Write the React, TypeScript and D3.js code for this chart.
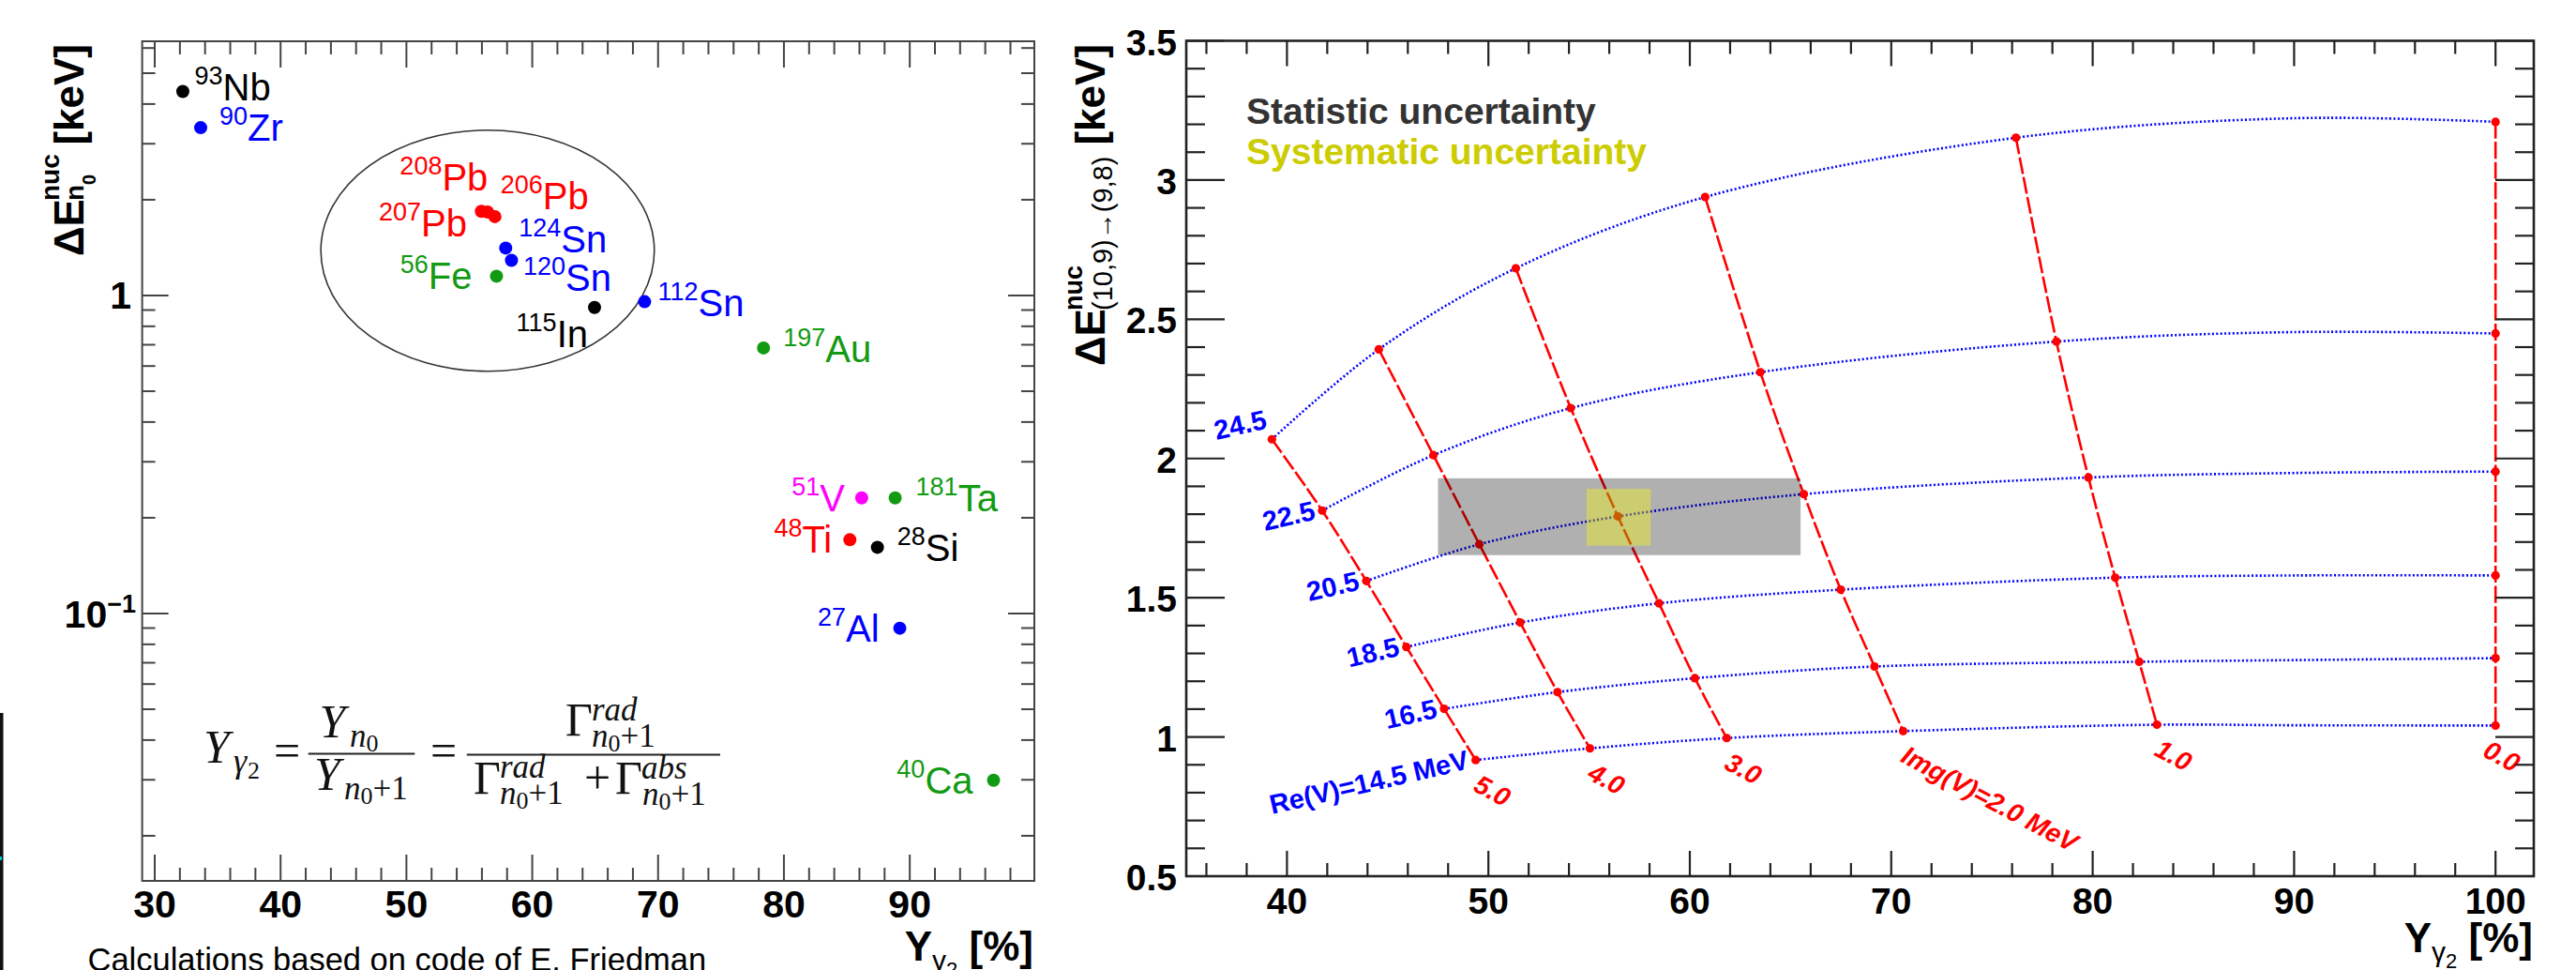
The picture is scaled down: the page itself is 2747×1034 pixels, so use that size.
import React, { useEffect } from 'react';
import * as d3 from 'd3';

const W = 2747;
const H = 1034;
const SANS = "'Liberation Sans', Arial, Helvetica, sans-serif";
const SERIF = "'Liberation Serif', 'Times New Roman', serif";

// ---------------- Left panel data ----------------
const nucleusMass = ['93', '90', '208', '207', '206', '124', '120', '56', '115', '112', '197', '51', '181', '48', '28', '27', '40'];
const nucleusSymbol = ['Nb', 'Zr', 'Pb', 'Pb', 'Pb', 'Sn', 'Sn', 'Fe', 'In', 'Sn', 'Au', 'V', 'Ta', 'Ti', 'Si', 'Al', 'Ca'];
const yieldGamma2 = [32.23, 33.65, 55.96, 56.45, 57.03, 57.89, 58.35, 57.16, 64.95, 68.93, 78.38, 86.18, 88.84, 85.24, 87.43, 89.21, 96.66];
const deltaEn0 = [4.38, 3.37, 1.84, 1.83, 1.77, 1.41, 1.29, 1.15, 0.917, 0.956, 0.684, 0.231, 0.231, 0.1706, 0.1615, 0.0899, 0.0299];
const nucleusGroup = ['k', 'b', 'r', 'r', 'r', 'b', 'b', 'g', 'k', 'b', 'g', 'm', 'g', 'r', 'k', 'b', 'g'];
const leftXTicks = [30, 40, 50, 60, 70, 80, 90];
const leftYTicks = [0.1, 1];
const ellipseX = [43.2, 69.7];
const ellipseY = [0.578, 3.31];

// ---------------- Right panel data ----------------
const reLabels = ['24.5', '22.5', '20.5', '18.5', '16.5', 'Re(V)=14.5 MeV'];
const imgLabels = ['5.0', '4.0', '3.0', 'Img(V)=2.0 MeV', '1.0', '0.0'];
// rows: Re(V) = 24.5 ... 14.5 ; columns: Img(V) = 5.0 ... 0.0
const gridX = [
  [39.25, 44.56, 51.36, 60.76, 76.19, 100],
  [41.75, 47.27, 54.09, 63.5, 78.2, 100],
  [43.94, 49.55, 56.43, 65.66, 79.79, 100],
  [45.93, 51.58, 58.47, 67.49, 81.12, 100],
  [47.8, 53.43, 60.25, 69.17, 82.31, 100],
  [49.37, 55.04, 61.83, 70.59, 83.19, 100],
];
const gridY = [
  [2.069, 2.392, 2.683, 2.939, 3.152, 3.209],
  [1.813, 2.012, 2.181, 2.31, 2.42, 2.449],
  [1.56, 1.692, 1.792, 1.872, 1.932, 1.953],
  [1.323, 1.411, 1.48, 1.529, 1.572, 1.58],
  [1.101, 1.161, 1.211, 1.253, 1.27, 1.283],
  [0.917, 0.959, 0.996, 1.021, 1.044, 1.041],
];
// extra samples of the Re(V) curves read at Y=90 %
const curveSampleX = 90;
const curveSampleY = [3.222, 2.454, 1.948, 1.58, 1.276, 1.042];
const statBoxX = [47.5, 65.5];
const statBoxY = [1.653, 1.929];
const sysBoxX = [54.87, 58.06];
const sysBoxY = [1.687, 1.891];
const rightXTicks = [40, 50, 60, 70, 80, 90, 100];
const rightYTicks = [0.5, 1, 1.5, 2, 2.5, 3, 3.5];

// ---------------- styles / layout ----------------
const groupColor: Record<string, string> = { k: '#000000', b: '#0000ff', r: '#ff0000', g: '#139a13', m: '#ff00ff' };
// label layout: anchor, dx, dy relative to the dot
const labelLayout: [string, number, number][] = [
  ['start', 12.6, 9.3], ['start', 20, 14], ['end', 7, -22], ['end', -22, 26], ['start', 6, -8],
  ['start', 14, 5], ['start', 12.5, 33], ['end', -26, 14], ['end', -7, 42], ['start', 14, 15],
  ['start', 21, 15], ['end', -18, 14], ['start', 22, 14], ['end', -19, 14], ['start', 21, 15],
  ['end', -22, 14], ['end', -22, 14],
];

const xL = d3.scaleLinear().domain([29, 99.9]).range([151.6, 1103]);
const yL = d3.scaleLog().domain([0.01443, 6.3]).range([939, 44]);
const xR = d3.scaleLinear().domain([35, 101.9]).range([1265, 2702]);
const yR = d3.scaleLinear().domain([0.5, 3.5]).range([934, 43.5]);

function Frame({ x0, x1, y0, y1, color, width }: any) {
  return <rect x={x0} y={y0} width={x1 - x0} height={y1 - y0} fill="none" stroke={color} strokeWidth={width} />;
}

function ScriptN01({ x, y, size, small, plus = true }: any) {
  return (
    <text x={x} y={y} fontFamily={SERIF} fontSize={size} fill="#111">
      <tspan fontStyle="italic">n</tspan>
      <tspan fontSize={small} dy={5}>0</tspan>
      {plus ? <tspan dy={-5}>+1</tspan> : null}
    </text>
  );
}

function LeftPanel() {
  const [x0, x1] = xL.range();
  const [y0, y1] = [yL.range()[1], yL.range()[0]];
  const c = '#444';
  const minorX = d3.range(30, 100, 2).filter((v) => v % 10 !== 0);
  const minorY: number[] = [];
  [0.01, 0.1, 1].forEach((d) => {
    for (let k = 2; k <= 9; k++) {
      const v = k * d;
      if (v >= yL.domain()[0] && v <= yL.domain()[1]) minorY.push(v);
    }
  });
  const ex0 = xL(ellipseX[0]), ex1 = xL(ellipseX[1]);
  const ey0 = yL(ellipseY[1]), ey1 = yL(ellipseY[0]);
  return (
    <g>
      <Frame x0={x0} x1={x1} y0={y0} y1={y1} color={c} width={2} />
      {leftXTicks.map((v) => (
        <g key={'lx' + v}>
          <line x1={xL(v)} x2={xL(v)} y1={y1} y2={y1 - 28} stroke={c} strokeWidth={2} />
          <line x1={xL(v)} x2={xL(v)} y1={y0} y2={y0 + 28} stroke={c} strokeWidth={2} />
          <text x={xL(v)} y={978} textAnchor="middle" fontFamily={SANS} fontWeight="bold" fontSize={41}>{v}</text>
        </g>
      ))}
      {minorX.map((v) => (
        <g key={'lmx' + v}>
          <line x1={xL(v)} x2={xL(v)} y1={y1} y2={y1 - 14} stroke={c} strokeWidth={2} />
          <line x1={xL(v)} x2={xL(v)} y1={y0} y2={y0 + 14} stroke={c} strokeWidth={2} />
        </g>
      ))}
      {leftYTicks.map((v) => (
        <g key={'ly' + v}>
          <line x1={x0} x2={x0 + 28} y1={yL(v)} y2={yL(v)} stroke={c} strokeWidth={2} />
          <line x1={x1} x2={x1 - 28} y1={yL(v)} y2={yL(v)} stroke={c} strokeWidth={2} />
        </g>
      ))}
      {minorY.map((v) => (
        <g key={'lmy' + v}>
          <line x1={x0} x2={x0 + 14} y1={yL(v)} y2={yL(v)} stroke={c} strokeWidth={2} />
          <line x1={x1} x2={x1 - 14} y1={yL(v)} y2={yL(v)} stroke={c} strokeWidth={2} />
        </g>
      ))}
      <text x={140} y={yL(1) + 14} textAnchor="end" fontFamily={SANS} fontWeight="bold" fontSize={41}>1</text>
      <text x={145} y={yL(0.1) + 15} textAnchor="end" fontFamily={SANS} fontWeight="bold" fontSize={41}>
        10<tspan fontSize={27} dy={-16}>−1</tspan>
      </text>

      {/* ellipse */}
      <ellipse cx={(ex0 + ex1) / 2} cy={(ey0 + ey1) / 2} rx={(ex1 - ex0) / 2} ry={(ey1 - ey0) / 2} fill="none" stroke="#333" strokeWidth={1.6} />

      {/* points */}
      {yieldGamma2.map((v, i) => (
        <circle key={'p' + i} cx={xL(v)} cy={yL(deltaEn0[i])} r={7} fill={groupColor[nucleusGroup[i]]} />
      ))}
      {yieldGamma2.map((v, i) => {
        const [anchor, dx, dy] = labelLayout[i];
        return (
          <text key={'t' + i} x={xL(v) + dx} y={yL(deltaEn0[i]) + dy} textAnchor={anchor} fontFamily={SANS} fill={groupColor[nucleusGroup[i]]} fontSize={40}>
            <tspan fontSize={27} dy={-17}>{nucleusMass[i]}</tspan>
            <tspan fontSize={40} dy={17}>{nucleusSymbol[i]}</tspan>
          </text>
        );
      })}

      {/* formula */}
      <g fill="#111">
        <text x={217} y={813} fontFamily={SERIF} fontStyle="italic" fontSize={50}>Y</text>
        <text x={249} y={823} fontFamily={SERIF} fontStyle="italic" fontSize={36}>γ</text>
        <text x={264} y={830} fontFamily={SERIF} fontSize={26}>2</text>
        <text x={292} y={817} fontFamily={SERIF} fontSize={50}>=</text>
        <line x1={328.7} x2={442.3} y1={803.5} y2={803.5} stroke="#222" strokeWidth={2} />
        <text x={340.6} y={786} fontFamily={SERIF} fontStyle="italic" fontSize={50}>Y</text>
        <ScriptN01 x={373} y={796} size={35} small={26} plus={false} />
        <text x={335} y={842} fontFamily={SERIF} fontStyle="italic" fontSize={50}>Y</text>
        <ScriptN01 x={367} y={852} size={35} small={26} />
        <text x={459} y={817} fontFamily={SERIF} fontSize={50}>=</text>
        <line x1={497.8} x2={768} y1={804.5} y2={804.5} stroke="#222" strokeWidth={2} />
        <text x={603} y={784} fontFamily={SERIF} fontSize={50}>Γ</text>
        <text x={631} y={768} fontFamily={SERIF} fontStyle="italic" fontSize={35}>rad</text>
        <ScriptN01 x={631} y={796} size={35} small={26} />
        <text x={505} y={846} fontFamily={SERIF} fontSize={50}>Γ</text>
        <text x={533} y={829} fontFamily={SERIF} fontStyle="italic" fontSize={35}>rad</text>
        <ScriptN01 x={533} y={857} size={35} small={26} />
        <text x={623} y={846} fontFamily={SERIF} fontSize={50}>+</text>
        <text x={656} y={846} fontFamily={SERIF} fontSize={50}>Γ</text>
        <text x={684} y={830} fontFamily={SERIF} fontStyle="italic" fontSize={35}>abs</text>
        <ScriptN01 x={685} y={858} size={35} small={26} />
      </g>

      {/* axis titles */}
      <g transform="translate(89,273) rotate(-90)" fontFamily={SANS} fontWeight="bold">
        <text x={0} y={0} fontSize={44}>ΔE</text>
        <text x={59} y={-26} fontSize={28}>nuc</text>
        <text x={59} y={0} fontSize={28}>n</text>
        <text x={76} y={13} fontSize={20}>0</text>
        <text x={226} y={0} fontSize={44} textAnchor="end">[keV]</text>
      </g>
      <text x={1102} y={1024} textAnchor="end" fontFamily={SANS} fontWeight="bold" fontSize={44}>
        Y<tspan fontSize={30} fontWeight="normal" dy={10}>γ</tspan>
        <tspan fontSize={22} fontWeight="normal" dy={7}>2</tspan>
        <tspan fontSize={44} dy={-17}> [%]</tspan>
      </text>
      <text x={93.5} y={1035} fontFamily={SANS} fontSize={34.5} fill="#000">Calculations based on code of E. Friedman</text>
    </g>
  );
}

function RightPanel() {
  const [x0, x1] = xR.range();
  const [y0, y1] = [yR.range()[1], yR.range()[0]];
  const c = '#222';
  const minorX = d3.range(36, 101.9, 2).filter((v) => v % 10 !== 0);
  const minorY = d3.range(0.6, 3.5, 0.1).map((v) => Math.round(v * 10) / 10).filter((v) => Math.round(v * 10) % 5 !== 0);
  const line = d3.line<number[]>().x((d) => xR(d[0])).y((d) => yR(d[1])).curve(d3.curveCatmullRom.alpha(0.5));
  const blueCurves = gridX.map((row, r) => {
    const pts = row.map((x, i) => [x, gridY[r][i]]);
    pts.splice(pts.length - 1, 0, [curveSampleX, curveSampleY[r]]);
    return pts;
  });
  const redCurves = imgLabels.map((_, ci) => gridX.map((row, r) => [row[ci], gridY[r][ci]]));
  const last = gridX.length - 1;
  return (
    <g>
      {/* blue dotted Re(V) curves */}
      {blueCurves.map((pts, r) => (
        <path key={'b' + r} d={line(pts) as string} fill="none" stroke="#0000ff" strokeWidth={2.6} strokeDasharray="2,2.4" />
      ))}
      {/* red dashed Img(V) curves */}
      {redCurves.map((pts, ci) => (
        <path key={'r' + ci} d={line(pts) as string} fill="none" stroke="#ff0000" strokeWidth={2.6} strokeDasharray="18,3.5" />
      ))}
      {gridX.map((row, r) =>
        row.map((x, i) => <circle key={'m' + r + '_' + i} cx={xR(x)} cy={yR(gridY[r][i])} r={4.6} fill="#ff0000" />)
      )}

      {/* uncertainty boxes */}
      <rect x={xR(statBoxX[0])} y={yR(statBoxY[1])} width={xR(statBoxX[1]) - xR(statBoxX[0])} height={yR(statBoxY[0]) - yR(statBoxY[1])} fill="#000" fillOpacity={0.31} />
      <rect x={xR(sysBoxX[0])} y={yR(sysBoxY[1])} width={xR(sysBoxX[1]) - xR(sysBoxX[0])} height={yR(sysBoxY[0]) - yR(sysBoxY[1])} fill="#ffff00" fillOpacity={0.36} />

      {/* Re labels */}
      {reLabels.map((t, r) => {
        const px = xR(gridX[r][0]);
        const py = yR(gridY[r][0]);
        const ax = r === 0 ? px - 4 : px - 6;
        const ay = r === 0 ? py - 12 : py + 9;
        return (
          <text key={'rl' + r} transform={`translate(${ax},${ay}) rotate(-13)`} textAnchor="end" fontFamily={SANS} fontWeight="bold" fontSize={29} fill="#0000ff">{t}</text>
        );
      })}
      {/* Img labels */}
      {imgLabels.map((t, ci) => {
        const px = xR(gridX[last][ci]);
        const py = yR(gridY[last][ci]);
        const ax = ci === imgLabels.length - 1 ? px - 15 : px - 4;
        const ay = py + 32;
        return (
          <text key={'il' + ci} transform={`translate(${ax},${ay}) rotate(28)`} fontFamily={SANS} fontWeight="bold" fontStyle="italic" fontSize={28} fill="#ff0000">{t}</text>
        );
      })}

      {/* frame and ticks */}
      <Frame x0={x0} x1={x1} y0={y0} y1={y1} color={c} width={2.6} />
      {rightXTicks.map((v) => (
        <g key={'rx' + v}>
          <line x1={xR(v)} x2={xR(v)} y1={y1} y2={y1 - 27} stroke={c} strokeWidth={2.2} />
          <line x1={xR(v)} x2={xR(v)} y1={y0} y2={y0 + 27} stroke={c} strokeWidth={2.2} />
          <text x={xR(v)} y={974} textAnchor="middle" fontFamily={SANS} fontWeight="bold" fontSize={39}>{v}</text>
        </g>
      ))}
      {minorX.map((v) => (
        <g key={'rmx' + v}>
          <line x1={xR(v)} x2={xR(v)} y1={y1} y2={y1 - 14} stroke={c} strokeWidth={2.2} />
          <line x1={xR(v)} x2={xR(v)} y1={y0} y2={y0 + 14} stroke={c} strokeWidth={2.2} />
        </g>
      ))}
      {rightYTicks.map((v) => (
        <g key={'ry' + v}>
          <line x1={x0} x2={x0 + 41} y1={yR(v)} y2={yR(v)} stroke={c} strokeWidth={2.2} />
          <line x1={x1} x2={x1 - 41} y1={yR(v)} y2={yR(v)} stroke={c} strokeWidth={2.2} />
          <text x={1255} y={yR(v) + 15} textAnchor="end" fontFamily={SANS} fontWeight="bold" fontSize={39}>{v}</text>
        </g>
      ))}
      {minorY.map((v) => (
        <g key={'rmy' + v}>
          <line x1={x0} x2={x0 + 20} y1={yR(v)} y2={yR(v)} stroke={c} strokeWidth={2.2} />
          <line x1={x1} x2={x1 - 20} y1={yR(v)} y2={yR(v)} stroke={c} strokeWidth={2.2} />
        </g>
      ))}

      {/* legend */}
      <text x={1329} y={131.7} fontFamily={SANS} fontWeight="bold" fontSize={39} fill="#333333">Statistic uncertainty</text>
      <text x={1329} y={175} fontFamily={SANS} fontWeight="bold" fontSize={39} fill="#cccc00">Systematic uncertainty</text>

      {/* axis titles */}
      <g transform="translate(1178,390) rotate(-90)" fontFamily={SANS}>
        <text x={0} y={0} fontSize={44} fontWeight="bold">ΔE</text>
        <text x={59} y={-24} fontSize={27} fontWeight="bold">nuc</text>
        <text x={59} y={8} fontSize={29}>(10,9)→(9,8)</text>
        <text x={343} y={0} fontSize={44} fontWeight="bold" textAnchor="end">[keV]</text>
      </g>
      <text x={2701} y={1015} textAnchor="end" fontFamily={SANS} fontWeight="bold" fontSize={44}>
        Y<tspan fontSize={30} fontWeight="normal" dy={10}>γ</tspan>
        <tspan fontSize={22} fontWeight="normal" dy={7}>2</tspan>
        <tspan fontSize={44} dy={-17}> [%]</tspan>
      </text>
    </g>
  );
}

export default function App() {
  useEffect(() => {
    document.body.style.margin = '0';
  }, []);
  return (
    <svg width={W} height={H} viewBox={`0 0 ${W} ${H}`} style={{ position: 'absolute', left: 0, top: 0, background: '#fff' }}>
      <rect x={0} y={0} width={W} height={H} fill="#ffffff" />
      <rect x={0} y={760} width={3.5} height={274} fill="#111" />
      <rect x={0} y={913} width={2} height={4} fill="#00cccc" />
      <LeftPanel />
      <RightPanel />
    </svg>
  );
}
